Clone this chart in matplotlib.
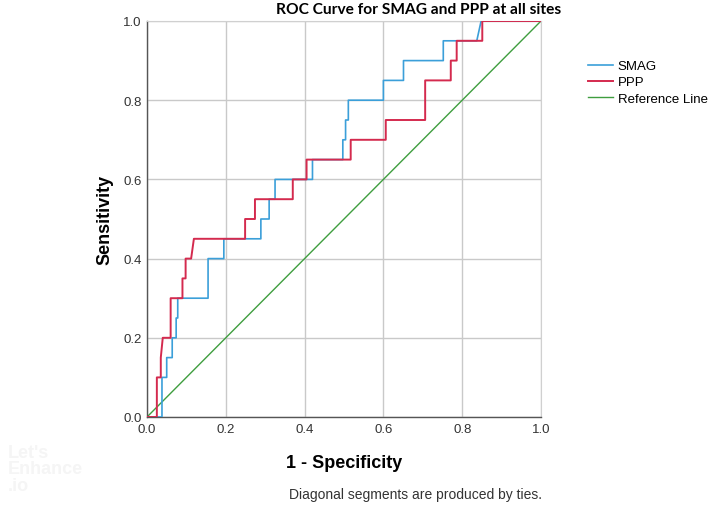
import matplotlib.pyplot as plt
import numpy as np

# ROC coordinates (1 - specificity, sensitivity)
smag_x = [0.0, 0.038, 0.038, 0.05, 0.05, 0.064, 0.064, 0.074, 0.074, 0.078, 0.078,
          0.155, 0.155, 0.195, 0.195, 0.289, 0.289, 0.31, 0.31, 0.325, 0.325,
          0.42, 0.42, 0.497, 0.497, 0.504, 0.504, 0.511, 0.511, 0.60, 0.60,
          0.651, 0.651, 0.752, 0.752, 0.837, 0.848, 1.0]
smag_y = [0.0, 0.0, 0.10, 0.10, 0.15, 0.15, 0.20, 0.20, 0.25, 0.25, 0.30,
          0.30, 0.40, 0.40, 0.45, 0.45, 0.50, 0.50, 0.55, 0.55, 0.60,
          0.60, 0.65, 0.65, 0.70, 0.70, 0.75, 0.75, 0.80, 0.80, 0.85,
          0.85, 0.90, 0.90, 0.95, 0.95, 1.0, 1.0]

ppp_x = [0.0, 0.025, 0.025, 0.035, 0.035, 0.04, 0.06, 0.06, 0.09, 0.09, 0.098,
         0.098, 0.112, 0.119, 0.249, 0.249, 0.274, 0.274, 0.37, 0.37, 0.405,
         0.405, 0.517, 0.517, 0.606, 0.606, 0.706, 0.706, 0.771, 0.771,
         0.786, 0.786, 0.851, 0.851, 1.0]
ppp_y = [0.0, 0.0, 0.10, 0.10, 0.15, 0.20, 0.20, 0.30, 0.30, 0.35, 0.35,
         0.40, 0.40, 0.45, 0.45, 0.50, 0.50, 0.55, 0.55, 0.60, 0.60,
         0.65, 0.65, 0.70, 0.70, 0.75, 0.75, 0.85, 0.85, 0.90,
         0.90, 0.95, 0.95, 1.0, 1.0]

ref_x = [0.0, 1.0]
ref_y = [0.0, 1.0]

ticks = [0.0, 0.2, 0.4, 0.6, 0.8, 1.0]
tick_labels = ['0.0', '0.2', '0.4', '0.6', '0.8', '1.0']

plt.rcParams['font.family'] = 'Liberation Sans'

fig = plt.figure(figsize=(7.09, 5.06), dpi=100)
ax = fig.add_axes([147/709, 1 - 418/506, 394/709, 396/506])

ax.plot(smag_x, smag_y, color='#3b9fd9', lw=1.2, label='SMAG', zorder=3)
ax.plot(ppp_x, ppp_y, color='#d42a4e', lw=1.4, label='PPP', zorder=4)
ax.plot(ref_x, ref_y, color='#3f9e3f', lw=1.0, label='Reference Line', zorder=2)

ax.set_xlim(0, 1)
ax.set_ylim(0, 1)
ax.set_xticks(ticks)
ax.set_xticklabels(tick_labels)
ax.set_yticks(ticks)
ax.set_yticklabels(tick_labels)
ax.grid(True, color='#c9c9c9', lw=1.0)
ax.set_axisbelow(True)
ax.tick_params(length=0, labelsize=9.5, colors='#333333', pad=4)
for s in ['top', 'right']:
    ax.spines[s].set_color('#d0d0d0')
for s in ['left', 'bottom']:
    ax.spines[s].set_color('#555555')
    ax.spines[s].set_linewidth(1.0)

fig.text(419/709, 1 - 10/506, 'ROC Curve for SMAG and PPP at all sites',
         ha='center', va='center', fontsize=11.2, fontweight='bold', family='Lato')
ax.set_xlabel('1 - Specificity', fontsize=13, fontweight='bold', labelpad=14)
ax.set_ylabel('Sensitivity', fontsize=13, fontweight='bold', labelpad=7)

fig.text(542/709, 1 - 495/506, 'Diagonal segments are produced by ties.',
         ha='right', va='center', fontsize=10, color='#333333')

# faint watermark
fig.text(8/709, 1 - 470/506, "Let's\nEnhance\n.io", fontsize=13, fontweight='bold',
         color='#f5f5f5', ha='left', va='center', linespacing=0.95)

ax.legend(loc='upper left', bbox_to_anchor=(588/709, 1 - 61/506),
          bbox_transform=fig.transFigure, frameon=False, fontsize=9.5,
          handlelength=1.9, handletextpad=0.35, labelspacing=0.3, borderpad=0,
          borderaxespad=0)

fig.savefig('out.png', dpi=100)
